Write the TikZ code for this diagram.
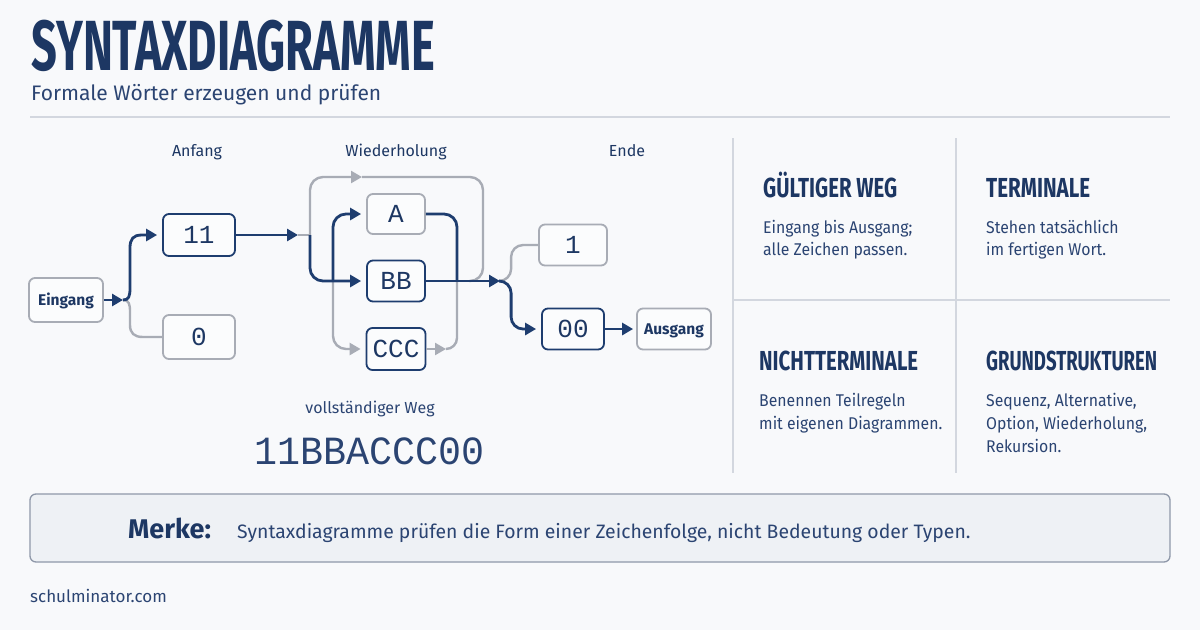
\documentclass[tikz,border=0pt]{standalone}
\usepackage{fontspec}
\usepackage{graphicx}
\setmainfont{Fira Sans}
\newfontfamily\monofont{Liberation Mono}
\usetikzlibrary{arrows.meta}
\definecolor{navy}{HTML}{1E3D6F}
\definecolor{ink}{HTML}{1D3763}
\definecolor{bodyc}{HTML}{2B4472}
\definecolor{grayln}{HTML}{A8ACB5}
\definecolor{divider}{HTML}{D3D7DF}
\definecolor{bgc}{HTML}{F8F9FB}
\definecolor{merkefill}{HTML}{EEF1F5}
\definecolor{merkeedge}{HTML}{8F98A9}
\definecolor{boxfill}{HTML}{FBFCFD}
\newcommand\headtxt[2]{\resizebox{#1}{\height}{\fontsize{27.5}{28}\selectfont\bfseries #2}}
\newcommand\narrowtxt[1]{\scalebox{0.93}[1]{#1}}
\tikzset{
  txt/.style={inner sep=0pt, text=ink},
  bodytxt/.style={inner sep=0pt, text=bodyc, font=\fontsize{17}{20}\selectfont, anchor=base west},
  navybox/.style={draw=navy, line width=1.8pt, rounded corners=6pt, fill=boxfill, inner sep=0pt,
    font=\monofont\fontsize{26}{26}\selectfont, text=ink, text height=17.5pt, text depth=0pt},
  graybox/.style={navybox, draw=grayln},
  portbox/.style={graybox, font=\bfseries\fontsize{15.5}{16}\selectfont, text height=10.5pt},
  navyline/.style={draw=navy, line width=2.8pt},
  grayline/.style={draw=grayln, line width=2.4pt},
  tip/.style={-{Triangle[length=11pt,width=12pt]}},
  divline/.style={draw=divider, line width=1.5pt},
  lbl/.style={inner sep=0pt, text=ink, font=\fontsize{16}{16}\selectfont, anchor=base}
}
\begin{document}
\begin{tikzpicture}[x=1pt,y=-1pt]
\useasboundingbox (0,0) rectangle (1200,630);
\fill[bgc] (0,0) rectangle (1200,630);

% header
\node[txt, anchor=base west] (title) at (31,70) {\raisebox{0pt}[\height][0pt]{\resizebox{404pt}{\height}{\fontsize{71}{71}\selectfont\bfseries SYNTAXDIAGRAMME}}};
\node[txt, anchor=base west, text=bodyc, font=\fontsize{21}{22}\selectfont] (subtitle) at (31,100) {Formale Wörter erzeugen und prüfen};
\coordinate (rulel) at (30,117);
\coordinate (ruler) at (1170,117);
\draw[divline] (rulel) -- (ruler);

% section labels
\node[lbl] (lanfang) at (197,156) {Anfang};
\node[lbl] (lwieder) at (396,156) {Wiederholung};
\node[lbl] (lende) at (627,156) {Ende};

% nodes
\node[portbox, minimum width=74pt, minimum height=44pt] (ein) at (66,300) {Eingang};
\node[navybox, minimum width=72pt, minimum height=42pt] (n11) at (199,235) {11};
\node[graybox, minimum width=72pt, minimum height=44pt] (n0) at (199,337) {0};
\node[graybox, minimum width=58pt, minimum height=40pt] (nA) at (396,214) {A};
\node[navybox, minimum width=58pt, minimum height=41pt] (nBB) at (396,281) {BB};
\node[navybox, minimum width=59pt, minimum height=42pt] (nCCC) at (396,349) {CCC};
\node[graybox, minimum width=68pt, minimum height=41pt] (n1) at (573,245) {1};
\node[navybox, minimum width=62pt, minimum height=41pt] (n00) at (573,329) {00};
\node[portbox, minimum width=74pt, minimum height=41pt] (aus) at (674,329) {Ausgang};

% junction coordinates
\coordinate (s1) at (123,300);
\coordinate (j1a) at (298,235);
\coordinate (j1) at (310,235);
\coordinate (loopA) at (362,177);
\coordinate (loopR) at (483,281);
\coordinate (li) at (333,281);
\coordinate (ri) at (457,281);
\coordinate (ct) at (446,349);
\coordinate (j2) at (500,281);

% gray connectors
\draw[grayline] (s1) .. controls (129,300) and (130,304) .. (130,312) -- (130,325)
   .. controls (130,333) and (134,337) .. (143,337) -- (n0.west);
\draw[grayline] (j1a) -- (j1);
\draw[grayline, rounded corners=13pt, tip] (j1) |- (loopA);
\draw[grayline, rounded corners=13pt] (loopA) -| (loopR) -- ++(-14,0);
\draw[grayline, rounded corners=13pt, tip] (li) |- ([xshift=-5pt]nCCC.west);
\draw[grayline, tip] (nCCC.east) -- (ct);
\draw[grayline, rounded corners=11pt] (ct) -| (ri);
\draw[grayline, rounded corners=12pt] (j2) -| ([xshift=-27pt]n1.west) -- (n1.west);

% navy connectors
\draw[navyline, tip] (ein.east) -- (s1);
\draw[navyline, tip] (s1) .. controls (129,300) and (130,296) .. (130,288) -- (130,248)
   .. controls (130,239) and (133,235) .. (142,235) -- ([xshift=-5pt]n11.west);
\draw[navyline, tip] (n11.east) -- (j1a);
\draw[navyline, rounded corners=13pt, tip] (j1) |- ([xshift=-5pt]nBB.west);
\draw[navyline, rounded corners=13pt, tip] (li) |- ([xshift=-5pt]nA.west);
\draw[navyline, rounded corners=13pt] (nA.east) -| (ri);
\draw[navyline, tip] (nBB.east) -- (j2);
\draw[navyline, rounded corners=12pt, tip] (j2) -| ([xshift=-30pt]n00.west) -- ([xshift=-5pt]n00.west);
\draw[navyline, tip] (n00.east) -- ([xshift=-3pt]aus.west);

% path result
\node[txt, anchor=base, text=bodyc, font=\fontsize{16}{16}\selectfont] (wegl) at (370,413) {vollständiger Weg};
\node[txt, anchor=base, text=bodyc] (weg) at (370,464) {\resizebox{230pt}{\height}{\monofont\fontsize{40}{40}\selectfont 11BBACCC00}};

% right panels
\coordinate (d1t) at (733,138); \coordinate (d1b) at (733,473);
\coordinate (d2t) at (956,138); \coordinate (d2b) at (956,473);
\coordinate (hl) at (733,300); \coordinate (hr) at (1170,300);
\draw[divline] (d1t) -- (d1b);
\draw[divline] (d2t) -- (d2b);
\draw[divline] (hl) -- (hr);

\node[txt, anchor=base west] (h1) at (763,197) {\headtxt{134pt}{GÜLTIGER WEG}};
\node[bodytxt] (b1a) at (763,233) {\narrowtxt{Eingang bis Ausgang;}};
\node[bodytxt] (b1b) at (763,255) {\narrowtxt{alle Zeichen passen.}};

\node[txt, anchor=base west] (h2) at (986,197) {\headtxt{104pt}{TERMINALE}};
\node[bodytxt] (b2a) at (986,233) {\narrowtxt{Stehen tatsächlich}};
\node[bodytxt] (b2b) at (986,255) {\narrowtxt{im fertigen Wort.}};

\node[txt, anchor=base west] (h3) at (759,370) {\headtxt{159pt}{NICHTTERMINALE}};
\node[bodytxt] (b3a) at (759,406) {\narrowtxt{Benennen Teilregeln}};
\node[bodytxt] (b3b) at (759,429) {\narrowtxt{mit eigenen Diagrammen.}};

\node[txt, anchor=base west] (h4) at (986,370) {\headtxt{171pt}{GRUNDSTRUKTUREN}};
\node[bodytxt] (b4a) at (986,406) {\narrowtxt{Sequenz, Alternative,}};
\node[bodytxt] (b4b) at (986,429) {\narrowtxt{Option, Wiederholung,}};
\node[bodytxt] (b4c) at (986,452) {\narrowtxt{Rekursion.}};

% Merke box
\node[draw=merkeedge, fill=merkefill, line width=1.3pt, rounded corners=6pt, inner sep=0pt,
      minimum width=1140pt, minimum height=68pt] (merke) at (600,528) {};
\node[txt, anchor=base west, font=\bfseries\fontsize{27}{27}\selectfont] (merkel) at (128,538) {Merke:};
\node[txt, anchor=base west, text=bodyc, font=\fontsize{19.4}{20}\selectfont] (merket) at (237,538) {Syntaxdiagramme prüfen die Form einer Zeichenfolge, nicht Bedeutung oder Typen.};

\node[txt, anchor=base west, text=bodyc, font=\fontsize{17}{18}\selectfont] (footer) at (30,602) {schulminator.com};
\end{tikzpicture}
\end{document}
